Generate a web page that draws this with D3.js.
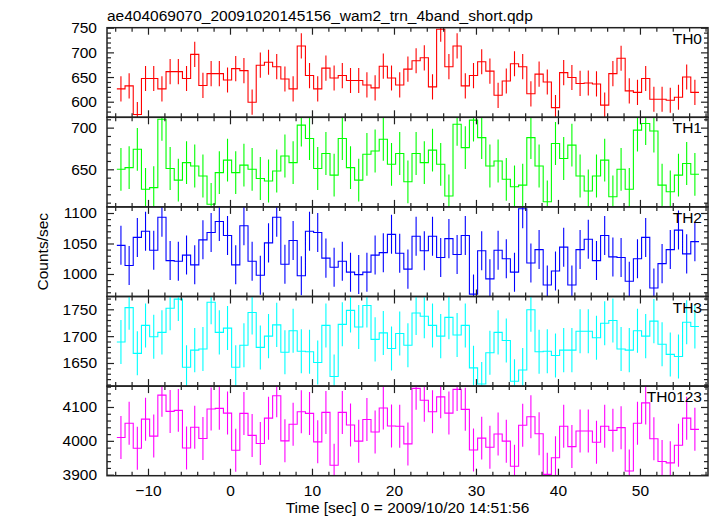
<!DOCTYPE html>
<html><head><meta charset="utf-8">
<script src="https://cdn.jsdelivr.net/npm/d3@7"></script>
<style>
body{margin:0;background:#fff}
svg{display:block}
text{font-family:"Liberation Sans",Arial,Helvetica,sans-serif;fill:#000}
</style>
</head><body>
<svg id="chart" width="717" height="516"></svg>
<script>
// ---------------- data ----------------
const title = "ae404069070_20091020145156_wam2_trn_4band_short.qdp";
const xLabel = "Time [sec] 0 = 2009/10/20 14:51:56";
const yLabel = "Counts/sec";
const binWidth = 1;
const times = [-13.3,-12.3,-11.3,-10.3,-9.3,-8.3,-7.3,-6.3,-5.3,-4.3,-3.3,-2.3,-1.3,-0.3,
  0.7,1.7,2.7,3.7,4.7,5.7,6.7,7.7,8.7,9.7,10.7,11.7,12.7,13.7,14.7,15.7,16.7,17.7,18.7,19.7,
  20.7,21.7,22.7,23.7,24.7,25.7,26.7,27.7,28.7,29.7,30.7,31.7,32.7,33.7,34.7,35.7,36.7,37.7,
  38.7,39.7,40.7,41.7,42.7,43.7,44.7,45.7,46.7,47.7,48.7,49.7,50.7,51.7,52.7,53.7,54.7,55.7,56.7];
const th0 = [626,632,574,647,647,626,661,661,647,696,633,657,657,644,667,663,599,674,680,671,
  646,626,713,653,626,668,648,653,643,643,634,628,672,648,634,666,683,689,630,747,
  671,713,632,653,681,662,613,642,677,671,616,656,640,588,659,649,637,638,636,593,
  657,688,622,619,647,605,605,603,609,650,619];
const th1 = [650,652,674,626,628,710,651,637,658,654,642,608,646,661,646,655,650,639,636,648,
  666,658,703,687,651,669,643,687,652,637,668,672,686,656,669,635,669,658,673,656,
  618,704,676,709,688,654,660,638,629,631,688,654,611,681,663,679,642,624,642,661,
  617,650,626,697,705,696,631,623,643,657,644];
const th2 = [1047,1014,1060,1070,1039,1093,1022,1021,1031,1015,1056,1068,1086,1063,1015,1079,1021,998,1051,1093,
  1016,1055,997,1070,1068,1026,1011,1021,1003,999,1003,1031,1035,1065,1034,1008,1062,1038,1062,1027,
  1058,1032,1063,967,1038,992,1039,1025,1003,1107,1018,1040,982,1005,1044,982,1040,1057,1022,1063,
  1028,1027,988,1025,1060,977,1017,1040,1072,1033,1053];
const th3 = [1689,1753,1668,1720,1699,1707,1752,1769,1642,1674,1676,1763,1707,1715,1642,1683,1744,1679,1700,1721,
  1670,1710,1672,1671,1651,1720,1625,1722,1748,1717,1757,1694,1706,1677,1705,1683,1743,1737,1720,1700,
  1735,1702,1720,1641,1611,1669,1707,1692,1616,1637,1749,1671,1672,1664,1674,1674,1709,1709,1697,1724,
  1729,1676,1674,1710,1700,1728,1685,1666,1662,1726,1718];
const th0123 = [4010,4052,3978,4064,4014,4135,4087,4090,3979,4040,4007,4094,4096,4082,3972,4081,4016,3992,4067,4133,
  4000,4049,4086,4081,3997,4084,3928,4084,4047,3999,4063,4026,4097,4044,4043,3991,4155,4120,4086,4130,
  4082,4152,4093,3973,4008,3981,4020,3999,3925,4046,4071,4021,3901,3950,4043,3983,4029,4029,3996,4043,
  4031,4039,3911,4052,4112,4006,3939,3935,3987,4067,4034];
const bandNames = ["TH0","TH1","TH2","TH3","TH0123"];
const bandSeries = [th0, th1, th2, th3, th0123];
const bandErrors = [25.5, 25.7, 32, 41, 63.5];   // 1-sigma half length
const xTicks = [-10,0,10,20,30,40,50];
const yTicksTH0 = [600,650,700,750];
const yTicksTH1 = [650,700];
const yTicksTH2 = [1000,1050,1100];
const yTicksTH3 = [1650,1700,1750];
const yTicksTH0123 = [3900,4000,4100];

// ---------------- layout ----------------
const bandColors = ["#ff0000","#00ff00","#0000ff","#00ffff","#ff00ff"];
const yMajor = [yTicksTH0, yTicksTH1, yTicksTH2, yTicksTH3, yTicksTH0123];
const yMinorStep = [10,10,10,10,20];
const yDomains = [[568.4,750],[604.9,712.4],[963.1,1110],[1607,1773.8],[3897,4161.7]];
const L = 107, R = 708, T = 27.7, B = 475.7;
const nP = bandNames.length;
const pH = (B - T) / nP;

const svg = d3.select("#chart");
const x = d3.scaleLinear().domain([-15, 58.3]).range([L, R]);
const xMinor = d3.range(-14, 58.3, 2).filter(v => v % 10 !== 0);
const FS = "15.5px";

svg.append("text").attr("x", L).attr("y", 21).style("font-size", FS).text(title);

bandNames.forEach((name, i) => {
  const top = T + i * pH, bot = top + pH;
  const y = d3.scaleLinear().domain(yDomains[i]).range([bot, top]);
  const g = svg.append("g");
  const clipId = "clip" + i;
  svg.append("clipPath").attr("id", clipId).append("rect")
    .attr("x", L).attr("y", top).attr("width", R - L).attr("height", pH);

  const dg = g.append("g").attr("clip-path", `url(#${clipId})`);
  const vals = bandSeries[i];
  const pts = times.map((t, k) => [t - binWidth / 2, vals[k]]);
  pts.push([times[times.length - 1] + binWidth / 2, vals[vals.length - 1]]);
  const line = d3.line().x(d => x(d[0])).y(d => y(d[1])).curve(d3.curveStepAfter);
  dg.append("path").attr("d", line(pts)).attr("fill", "none")
    .attr("stroke", bandColors[i]).attr("stroke-width", 1.1);
  const err = bandErrors[i];
  dg.selectAll("line.err").data(times).join("line").attr("class", "err")
    .attr("x1", t => x(t)).attr("x2", t => x(t))
    .attr("y1", (t, k) => y(vals[k] - err)).attr("y2", (t, k) => y(vals[k] + err))
    .attr("stroke", bandColors[i]).attr("stroke-width", 1.1);

  const dom = yDomains[i];
  const st = yMinorStep[i];
  const yMinor = d3.range(Math.ceil(dom[0] / st) * st, dom[1], st).filter(v => !yMajor[i].includes(v));

  const axStyle = sel => {
    sel.select(".domain").remove();
    sel.selectAll("line").attr("stroke", "#222").attr("stroke-width", 1.2);
    sel.selectAll("text").style("font-size", FS).style("font-family", "Liberation Sans, Arial, sans-serif").attr("fill", "#000");
  };
  // left
  g.append("g").attr("transform", `translate(${L},0)`)
    .call(d3.axisLeft(y).tickValues(yMajor[i]).tickSize(-7).tickPadding(10).tickFormat(d3.format("d"))).call(axStyle);
  g.append("g").attr("transform", `translate(${L},0)`)
    .call(d3.axisLeft(y).tickValues(yMinor).tickSize(-4).tickFormat("")).call(axStyle);
  // right
  g.append("g").attr("transform", `translate(${R},0)`)
    .call(d3.axisRight(y).tickValues(yMajor[i]).tickSize(-7).tickFormat("")).call(axStyle);
  g.append("g").attr("transform", `translate(${R},0)`)
    .call(d3.axisRight(y).tickValues(yMinor).tickSize(-4).tickFormat("")).call(axStyle);
  // top
  g.append("g").attr("transform", `translate(0,${top})`)
    .call(d3.axisTop(x).tickValues(xTicks).tickSize(-7).tickFormat("")).call(axStyle);
  g.append("g").attr("transform", `translate(0,${top})`)
    .call(d3.axisTop(x).tickValues(xMinor).tickSize(-4).tickFormat("")).call(axStyle);
  // bottom
  const last = i === nP - 1;
  g.append("g").attr("transform", `translate(0,${bot})`)
    .call(d3.axisBottom(x).tickValues(xTicks).tickSize(-7).tickPadding(9)
      .tickFormat(last ? d3.format("d") : "")).call(axStyle);
  g.append("g").attr("transform", `translate(0,${bot})`)
    .call(d3.axisBottom(x).tickValues(xMinor).tickSize(-4).tickFormat("")).call(axStyle);

  g.append("rect").attr("x", L).attr("y", top).attr("width", R - L).attr("height", pH)
    .attr("fill", "none").attr("stroke", "#222").attr("stroke-width", 1.5);

  g.append("text").attr("x", 702).attr("y", top + 16).attr("text-anchor", "end")
    .style("font-size", FS).text(name);
});

svg.append("text").attr("x", (L + R) / 2).attr("y", 513).attr("text-anchor", "middle")
  .style("font-size", FS).text(xLabel);
svg.append("text").attr("transform", `translate(48,${(T + B) / 2}) rotate(-90)`)
  .attr("text-anchor", "middle").style("font-size", FS).text(yLabel);
</script>
</body></html>
